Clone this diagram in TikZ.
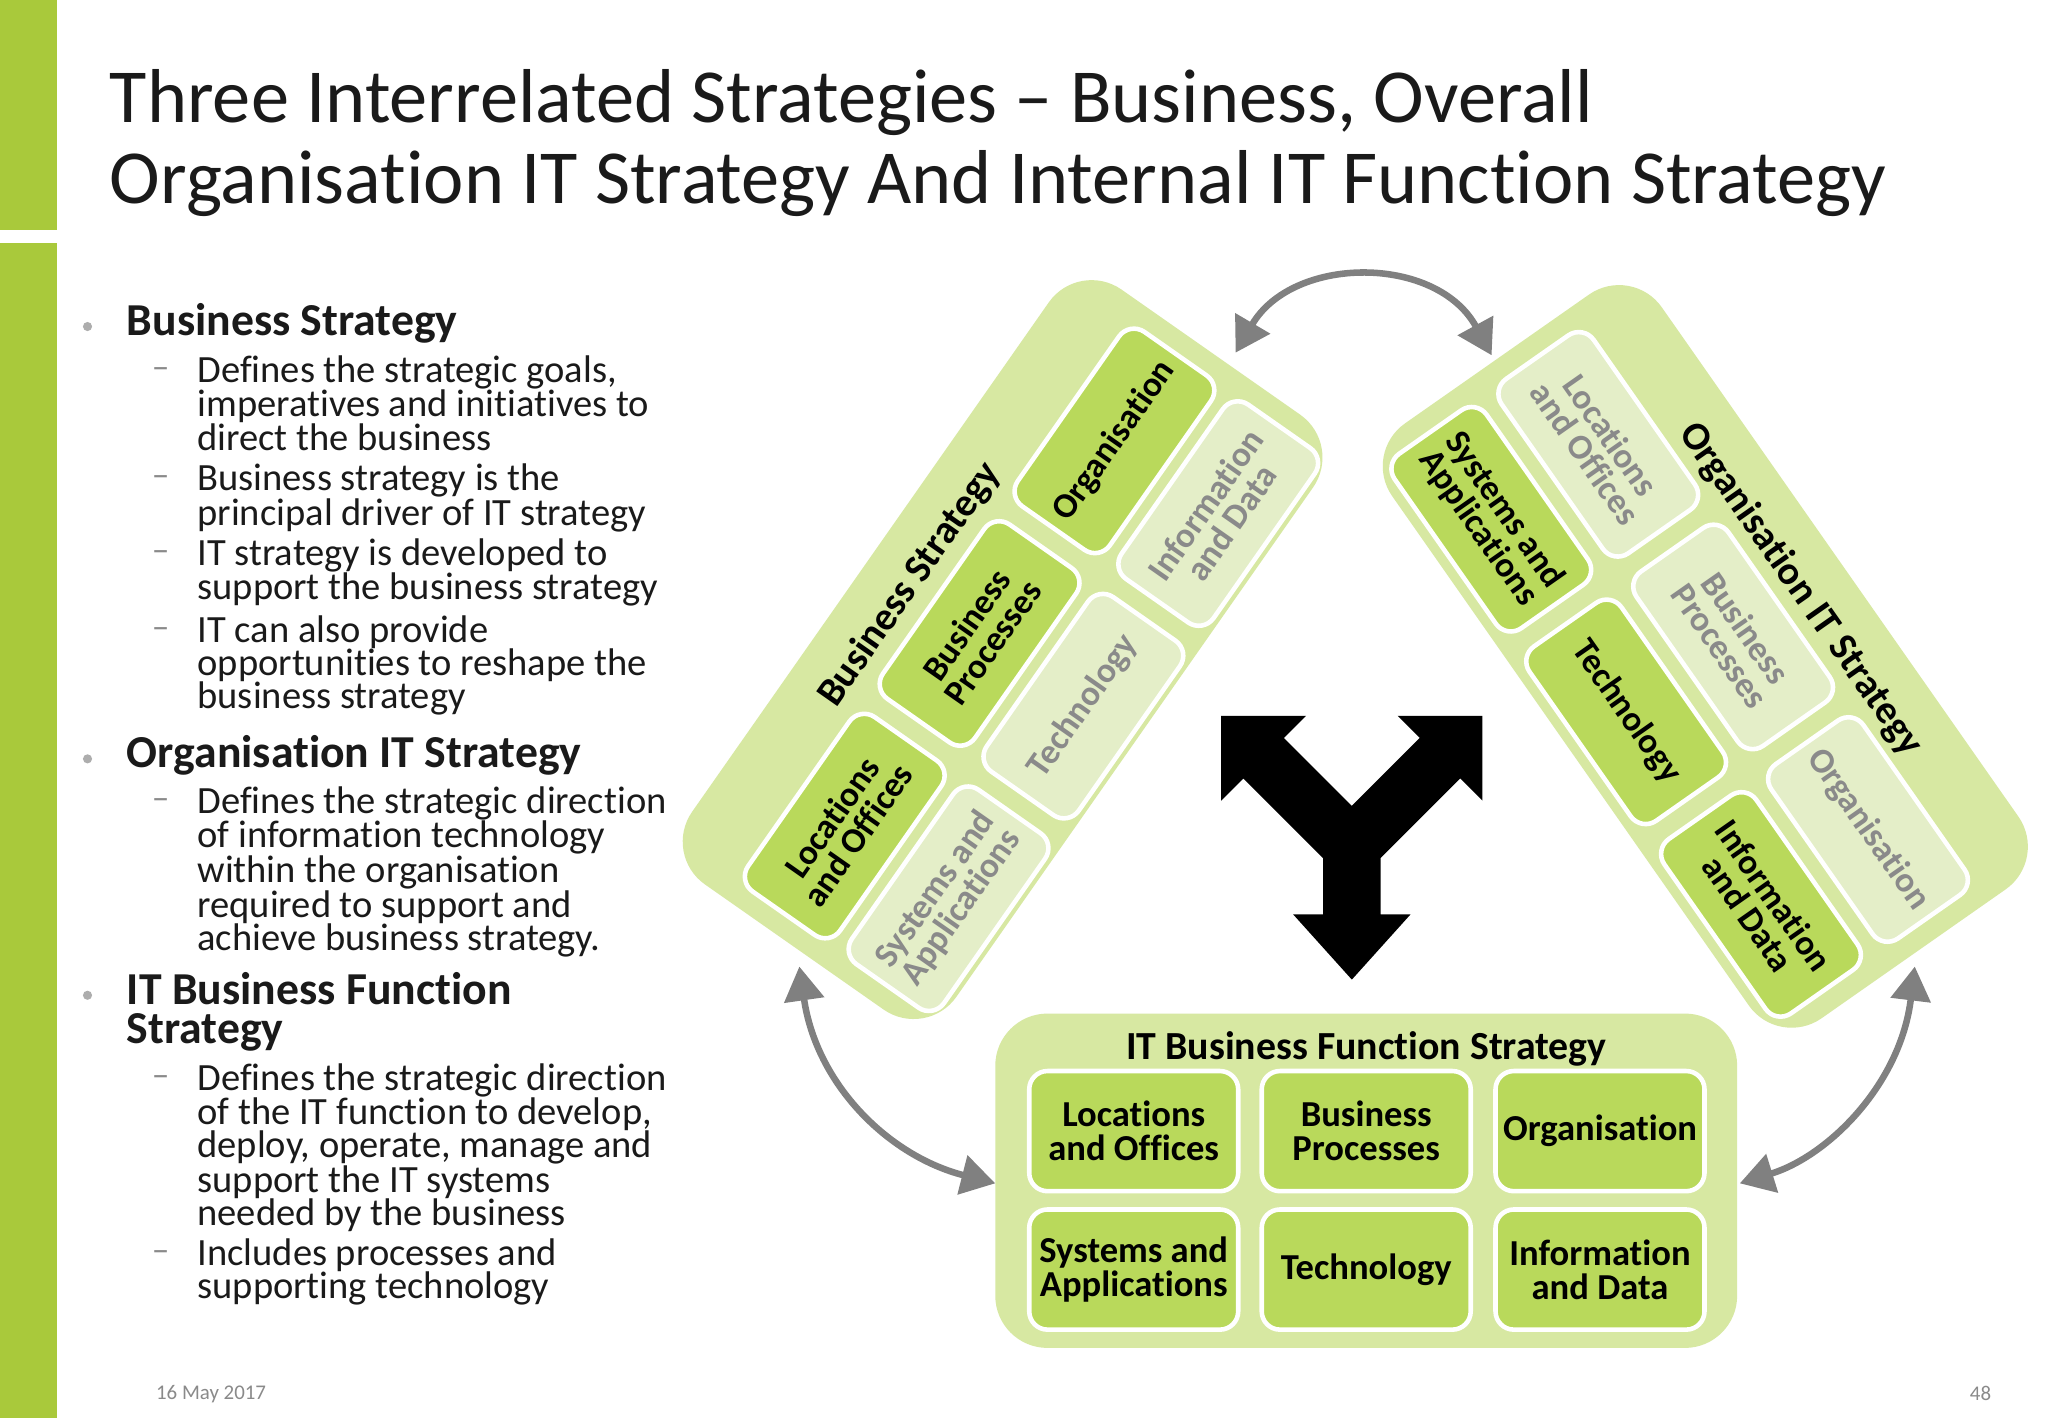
\documentclass[tikz,border=0pt]{standalone}
\usepackage{fontspec}
\setmainfont{Carlito}[Ligatures=NoCommon]
\usetikzlibrary{arrows.meta}
\definecolor{barg}{HTML}{A9C93B}
\definecolor{panelg}{HTML}{D7E8A2}
\definecolor{brightg}{HTML}{B9D95B}
\definecolor{paleg}{HTML}{E4EEC8}
\definecolor{txt}{HTML}{1A1A1A}
\definecolor{pgray}{HTML}{8A8A8A}
\definecolor{agray}{HTML}{808080}
\tikzset{
 x=1pt,y=-1pt,
 panel/.style={fill=panelg,draw=none,rounded corners=40},
 bbox/.style={fill=brightg,draw=white,line width=3.5,rounded corners=14,minimum width=163,minimum height=86,align=center,font=\bfseries\fontsize{27}{24}\selectfont,text=black,inner sep=0},
 pbox/.style={bbox,fill=paleg,text=pgray},
 ptitle/.style={font=\bfseries\fontsize{30.5}{30}\selectfont,text=black},
 hdr/.style={anchor=north west,align=left,font=\bfseries\fontsize{35}{30}\selectfont,text=txt,inner sep=0},
 item/.style={anchor=north west,align=left,font=\fontsize{29.5}{25.3}\selectfont,text=txt,inner sep=0},
 dashn/.style={anchor=north west,font=\fontsize{27}{25}\selectfont,text=pgray,inner sep=0},
 bul/.style={circle,fill=pgray!70,inner sep=0,minimum size=7},
 garrow/.style={draw=agray,line width=5,{Triangle[length=26,width=30]}-{Triangle[length=26,width=30]}},
}
\begin{document}
\begin{tikzpicture}
\path[use as bounding box,fill=white] (0,0) rectangle (1568,1086);
\fill[barg] (0,0) rectangle (44,176);
\fill[barg] (0,186) rectangle (44,1086);
\node[anchor=north west,align=left,inner sep=0,font=\fontsize{58.5}{62}\selectfont,text=txt] (title) at (84,53)
 {Three Interrelated Strategies – Business, Overall\\Organisation IT Strategy And Internal IT Function Strategy};
% bullets
\node[bul] (b1) at (67,250) {};
\node[hdr] (h1) at (97,232) {Business Strategy};
\node[dashn] (d1) at (116,272) {\strut–};
\node[item] (i1) at (151,272) {Defines the strategic goals,\\imperatives and initiatives to\\direct the business};
\node[dashn] (d2) at (116,355) {\strut–};
\node[item] (i2) at (151,355) {Business strategy is the\\principal driver of IT strategy};
\node[dashn] (d3) at (116,412) {\strut–};
\node[item] (i3) at (151,412) {IT strategy is developed to\\support the business strategy};
\node[dashn] (d4) at (116,471) {\strut–};
\node[item] (i4) at (151,471) {IT can also provide\\opportunities to reshape the\\business strategy};
\node[bul] (b2) at (67,581) {};
\node[hdr] (h2) at (97,563) {Organisation IT Strategy};
\node[dashn] (d5) at (116,602) {\strut–};
\node[item] (i5) at (151,602) {Defines the strategic direction\\of information technology\\within the organisation\\required to support and\\achieve business strategy.};
\node[bul] (b3) at (67,762) {};
\node[hdr] (h3) at (97,744) {IT Business Function\\Strategy};
\node[dashn] (d6) at (116,814) {\strut–};
\node[item] (i6) at (151,814) {Defines the strategic direction\\of the IT function to develop,\\deploy, operate, manage and\\support the IT systems\\needed by the business};
\node[dashn] (d7) at (116,948) {\strut–};
\node[item] (i7) at (151,948) {Includes processes and\\supporting technology};
% left panel
\begin{scope}[shift={(750,485)},rotate=55,transform shape]
 \fill[panel] (-278,-102) rectangle (278,145);
 \node[ptitle] (bst) at (0,-65) {Business Strategy};
 \node[bbox] (bl) at (-180,0) {Locations\\and Offices};
 \node[bbox] (bp) at (0,0) {Business\\Processes};
 \node[bbox] (bo) at (180,0) {Organisation};
 \node[pbox] (bs) at (-180,97) {Systems and\\Applications};
 \node[pbox] (bt) at (0,97) {Technology};
 \node[pbox] (bi) at (180,97) {Information\\and Data};
\end{scope}
% right panel
\begin{scope}[shift={(1245,545)},rotate=-55,transform shape]
 \fill[panel] (-278,-200) rectangle (278,52);
 \node[ptitle] (ost) at (0,-163) {Organisation IT Strategy};
 \node[bbox] (os) at (-180,0) {Systems and\\Applications};
 \node[bbox] (ot) at (0,0) {Technology};
 \node[bbox] (oi) at (180,0) {Information\\and Data};
 \node[pbox] (ol) at (-180,-100) {Locations\\and Offices};
 \node[pbox] (op) at (0,-100) {Business\\Processes};
 \node[pbox] (oo) at (180,-100) {Organisation};
\end{scope}
% bottom panel
\fill[panel] (762,776) rectangle (1330,1032);
\node[ptitle] (ftitle) at (1046,803) {IT Business Function Strategy};
\tikzset{fb/.style={bbox,minimum width=160,minimum height=92,font=\bfseries\fontsize{28}{26}\selectfont}}
\node[fb] (fl) at (868,866) {Locations\\and Offices};
\node[fb] (fp) at (1046,866) {Business\\Processes};
\node[fb] (fo) at (1225,866) {Organisation};
\node[fb] (fs) at (868,972) {Systems and\\Applications};
\node[fb] (ft) at (1046,972) {Technology};
\node[fb] (fi) at (1225,972) {Information\\and Data};
% Y arrow
\fill[black] (935,548)--(1000,548)--(983,565)--(1035,617)--(1087,565)--(1070,548)--(1135,548)--(1135,613)--(1118,596)--(1057,657)--(1057,700)--(1080,700)--(1035,750)--(990,700)--(1013,700)--(1013,657)--(952,596)--(935,613)--cycle;
% gray arrows
\coordinate (ta) at (946,270);
\coordinate (tb) at (1142,272);
\coordinate (la) at (612,740);
\coordinate (lb) at (762,906);
\coordinate (ra) at (1466,740);
\coordinate (rb) at (1332,906);
\draw[garrow] (ta) .. controls (990,195) and (1100,195) .. (tb);
\draw[garrow] (la) .. controls (625,830) and (680,885) .. (lb);
\draw[garrow] (ra) .. controls (1455,830) and (1400,885) .. (rb);
% footer
\node[anchor=west,font=\fontsize{16}{16}\selectfont,text=pgray] (date) at (116,1067) {16 May 2017};
\node[anchor=east,font=\fontsize{16}{16}\selectfont,text=pgray] (pg) at (1528,1067) {48};
\end{tikzpicture}
\end{document}
